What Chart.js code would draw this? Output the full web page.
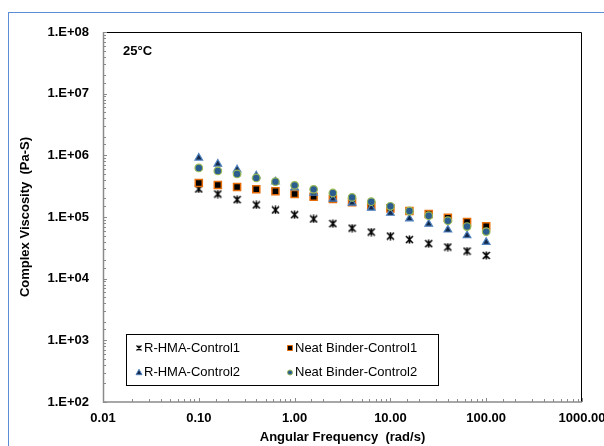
<!DOCTYPE html>
<html>
<head>
<meta charset="utf-8">
<script src="https://cdn.jsdelivr.net/npm/chart.js@4.4.1/dist/chart.umd.min.js"></script>
<style>
  html, body { margin: 0; padding: 0; background: #fff; overflow: hidden; }
  #wrap { position: relative; width: 604px; height: 446px; overflow: hidden; }
  #frame { position: absolute; left: 8px; top: 12px; width: 700px; height: 500px; border: 1.5px solid #5b8cd4; }
  canvas { position: absolute; left: 0; top: 0; }
</style>
</head>
<body>
<div id="wrap"><div id="frame"></div><canvas id="myChart" width="604" height="446"></canvas></div>
<script>
// angular frequency (rad/s)
const frequencies = [0.1, 0.158, 0.251, 0.398, 0.631, 1, 1.58, 2.51, 3.98, 6.31, 10, 15.8, 25.1, 39.8, 63.1, 100];
// complex viscosity (Pa-S)
const rhmaControl1 = [285000, 236000, 191000, 157000, 130000, 109000, 93000, 78000, 66000, 57000, 49000, 43000, 37000, 32600, 28000, 23800];
const neatControl1 = [356000, 330000, 307000, 281000, 261000, 236000, 213000, 196000, 173000, 152000, 138000, 125000, 112000, 97000, 83000, 71000];
const rhmaControl2 = [908000, 725000, 586000, 468000, 375000, 300000, 245000, 196000, 169000, 140000, 116000, 94000, 77000, 62000, 50000, 39000];
const neatControl2 = [624000, 558000, 499000, 430000, 374000, 326000, 281000, 245000, 208000, 177000, 149000, 125000, 105000, 87000, 70000, 58000];
const seriesNames = ['R-HMA-Control1', 'Neat Binder-Control1', 'R-HMA-Control2', 'Neat Binder-Control2'];
const xTickLabels = ['0.01', '0.10', '1.00', '10.00', '100.00', '1000.00'];
const yTickLabels = ['1.E+02', '1.E+03', '1.E+04', '1.E+05', '1.E+06', '1.E+07', '1.E+08'];

const FONT = '"Liberation Sans", Arial, sans-serif';

function makeStar(size, lw) {
  const c = document.createElement('canvas');
  c.width = size; c.height = size;
  const g = c.getContext('2d');
  g.strokeStyle = '#000';
  g.lineWidth = lw;
  g.beginPath();
  g.moveTo(1, 1); g.lineTo(size - 1, size - 1);
  g.moveTo(size - 1, 1); g.lineTo(1, size - 1);
  g.moveTo(size / 2, 0.5); g.lineTo(size / 2, size - 0.5);
  g.stroke();
  return c;
}

function toPoints(ys) {
  return frequencies.map((f, i) => ({x: f, y: ys[i]}));
}

function decade(v) {
  const e = Math.log10(v);
  return Math.abs(e - Math.round(e)) < 1e-6 ? Math.round(e) : null;
}

const styles = [
  {pointStyle: makeStar(9, 1.6), radius: 4, bg: '#000', border: '#000', bw: 1},
  {pointStyle: 'rect', radius: 5, bg: '#000', border: '#e46c0a', bw: 1.5},
  {pointStyle: 'triangle', radius: 4.4, bg: '#13294b', border: '#4f81bd', bw: 1.2},
  {pointStyle: 'circle', radius: 3.8, bg: '#2c5d8f', border: '#9bbb59', bw: 1.2}
];
const values = [rhmaControl1, neatControl1, rhmaControl2, neatControl2];

const framePlugin = {
  id: 'frame',
  beforeDatasetsDraw(chart) {
    const {ctx, chartArea: a, scales: {x, y}} = chart;
    ctx.save();
    ctx.strokeStyle = '#000';
    ctx.lineWidth = 1;
    ctx.beginPath();
    ctx.moveTo(a.left, a.top + 0.5);
    ctx.lineTo(a.right - 0.5, a.top + 0.5);
    ctx.lineTo(a.right - 0.5, a.bottom);
    ctx.stroke();
    ctx.strokeStyle = '#8a8a8a';
    ctx.lineWidth = 1;
    x.ticks.forEach(t => {
      const px = Math.round(x.getPixelForValue(t.value)) + 0.5;
      const len = decade(t.value) !== null ? 4 : 3;
      ctx.beginPath(); ctx.moveTo(px, a.bottom); ctx.lineTo(px, a.bottom - len); ctx.stroke();
    });
    y.ticks.forEach(t => {
      const py = Math.round(y.getPixelForValue(t.value)) + 0.5;
      const len = decade(t.value) !== null ? 4 : 3;
      ctx.beginPath(); ctx.moveTo(a.left, py); ctx.lineTo(a.left + len, py); ctx.stroke();
    });
    ctx.lineWidth = 1.5;
    ctx.beginPath();
    ctx.moveTo(a.left + 0.5, a.top);
    ctx.lineTo(a.left + 0.5, a.bottom);
    ctx.lineTo(a.right, a.bottom);
    ctx.stroke();
    ctx.fillStyle = '#000';
    ctx.font = 'bold 13px ' + FONT;
    ctx.textBaseline = 'middle';
    ctx.fillText('25°C', a.left + 20, a.top + 19);
    ctx.restore();
  }
};

function drawMarker(ctx, i, cx, cy) {
  const s = styles[i];
  ctx.save();
  ctx.fillStyle = s.bg;
  ctx.strokeStyle = s.border;
  ctx.lineWidth = 1;
  ctx.beginPath();
  if (i === 0) {
    ctx.lineWidth = 1.2;
    ctx.moveTo(cx - 2.5, cy - 2.5); ctx.lineTo(cx + 2.5, cy + 2.5);
    ctx.moveTo(cx + 2.5, cy - 2.5); ctx.lineTo(cx - 2.5, cy + 2.5);
    ctx.moveTo(cx, cy - 2.5); ctx.lineTo(cx, cy + 2.5);
    ctx.stroke();
  } else if (i === 1) {
    ctx.rect(cx - 2.5, cy - 2.5, 5, 5); ctx.fill(); ctx.stroke();
  } else if (i === 2) {
    ctx.moveTo(cx, cy - 3.2); ctx.lineTo(cx + 3, cy + 2.2); ctx.lineTo(cx - 3, cy + 2.2); ctx.closePath();
    ctx.fill(); ctx.stroke();
  } else {
    ctx.arc(cx, cy, 2.5, 0, Math.PI * 2); ctx.fill(); ctx.stroke();
  }
  ctx.restore();
}

const legendPlugin = {
  id: 'boxLegend',
  afterDatasetsDraw(chart) {
    const ctx = chart.ctx;
    const box = {left: 126.5, top: 334.5, width: 312, height: 51};
    ctx.save();
    ctx.fillStyle = '#fff';
    ctx.fillRect(box.left, box.top, box.width, box.height);
    ctx.strokeStyle = '#000';
    ctx.lineWidth = 1;
    ctx.strokeRect(box.left, box.top, box.width, box.height);
    ctx.font = '13px ' + FONT;
    ctx.textBaseline = 'middle';
    const cols = [139, 290];
    const rows = [348, 372.5];
    seriesNames.forEach((name, i) => {
      const cx = cols[i % 2], cy = rows[Math.floor(i / 2)];
      drawMarker(ctx, i, cx, cy);
      ctx.fillStyle = '#000';
      ctx.fillText(name, cx + 5, cy);
    });
    ctx.restore();
  }
};

new Chart('myChart', {
  type: 'scatter',
  data: {
    datasets: seriesNames.map((name, i) => ({
      label: name,
      data: toPoints(values[i]),
      pointStyle: styles[i].pointStyle,
      pointRadius: styles[i].radius,
      backgroundColor: styles[i].bg,
      borderColor: styles[i].border,
      borderWidth: styles[i].bw,
      order: 4 - i
    }))
  },
  options: {
    responsive: false,
    devicePixelRatio: 1,
    animation: false,
    layout: {padding: {left: 0, right: 22, top: 32, bottom: 0}},
    plugins: {legend: {display: false}, tooltip: {enabled: false}},
    scales: {
      x: {
        type: 'logarithmic',
        min: 0.01,
        max: 1000,
        grid: {display: false, drawTicks: false},
        border: {display: false},
        ticks: {
          autoSkip: false,
          maxRotation: 0,
          padding: 9,
          color: '#000',
          font: {family: FONT, size: 13, weight: 'bold'},
          callback: v => { const e = decade(v); return e === null ? '' : xTickLabels[e + 2]; }
        },
        title: {
          display: true,
          text: 'Angular Frequency  (rad/s)',
          color: '#000',
          font: {family: FONT, size: 13, weight: 'bold'},
          padding: {top: 0, bottom: 1}
        },
        afterFit: s => { s.height = 44; s.paddingLeft = 0; s.paddingRight = 0; }
      },
      y: {
        type: 'logarithmic',
        min: 100,
        max: 1e8,
        grid: {display: false, drawTicks: false},
        border: {display: false},
        ticks: {
          autoSkip: false,
          padding: 14,
          color: '#000',
          font: {family: FONT, size: 13, weight: 'bold'},
          callback: v => { const e = decade(v); return e === null ? '' : yTickLabels[e - 2]; }
        },
        title: {
          display: true,
          text: 'Complex Viscosity  (Pa-S)',
          color: '#000',
          font: {family: FONT, size: 13, weight: 'bold'},
          padding: {top: 18, bottom: 0}
        },
        afterFit: s => { s.width = 103; s.paddingTop = 0; s.paddingBottom = 0; }
      }
    }
  },
  plugins: [framePlugin, legendPlugin]
});
</script>
</body>
</html>
